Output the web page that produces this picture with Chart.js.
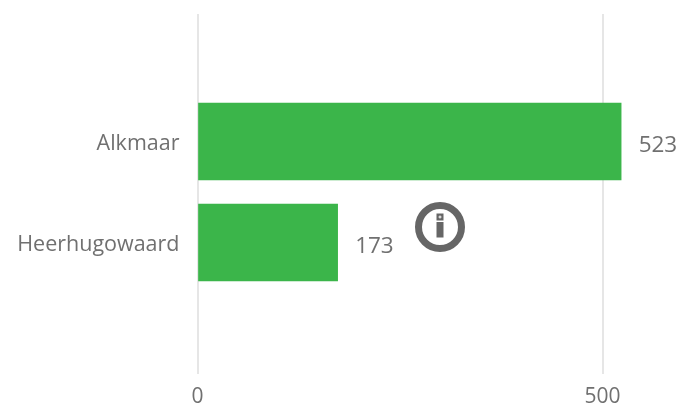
<!DOCTYPE html>
<html><head><meta charset="utf-8">
<style>html,body{margin:0;padding:0;background:#fff}#w{position:relative;width:681px;height:404px}canvas{display:block}</style>
<script src="https://cdn.jsdelivr.net/npm/chart.js@4"></script></head>
<body><div id="w"><canvas id="c" width="681" height="404"></canvas></div>
<script>
const categories = ["Alkmaar", "Heerhugowaard"];
const values = [523, 173];
const xTicks = [0, 500];
const font = '"Open Sans", "Noto Sans", sans-serif';
const textColor = '#707070';
const valueLabels = {
  id: 'valueLabels',
  afterDatasetsDraw(chart) {
    const ctx = chart.ctx;
    const meta = chart.getDatasetMeta(0);
    ctx.save();
    ctx.font = '22.5px ' + font;
    ctx.fillStyle = textColor;
    ctx.textBaseline = 'middle';
    meta.data.forEach((bar, i) => {
      ctx.fillText(String(values[i]), bar.x + 17.5, bar.y + 4);
    });
    ctx.restore();
  }
};
const infoIcon = {
  id: 'infoIcon',
  afterDraw(chart) {
    const ctx = chart.ctx, cx = 440, cy = 227;
    ctx.save();
    ctx.strokeStyle = '#666666';
    ctx.lineWidth = 7;
    ctx.beginPath(); ctx.arc(cx, cy, 21.5, 0, Math.PI * 2); ctx.stroke();
    ctx.fillStyle = '#666666';
    ctx.fillRect(cx - 3.5, cy - 13.5, 7, 7);
    ctx.fillRect(cx - 3.5, cy - 5, 7, 15.5);
    ctx.fillStyle = '#ffffff';
    ctx.fillRect(cx - 1.5, cy - 10.5, 3, 1);
    ctx.fillRect(cx - 0.5, cy - 11.5, 1, 3);
    ctx.restore();
  }
};
new Chart(document.getElementById('c'), {
  type: 'bar',
  data: { datasets: [{ data: values.map((v, i) => ({ x: v, y: i })), backgroundColor: '#3BB54A', barThickness: 77 }] },
  plugins: [valueLabels, infoIcon],
  options: {
    indexAxis: 'y', responsive: false, animation: false,
    layout: { padding: { top: 14, right: 5.6, bottom: 0, left: 0 } },
    plugins: { legend: { display: false }, tooltip: { enabled: false } },
    scales: {
      x: { min: 0, max: 590, afterBuildTicks(a) { a.ticks = xTicks.map(v => ({ value: v })); },
        afterFit(a) { a.height = 30; },
        grid: { color: '#e6e6e6', lineWidth: 2, drawTicks: false },
        border: { display: false },
        ticks: { color: textColor, font: { family: font, size: 21 }, padding: 10, maxRotation: 0 } },
      y: { type: 'linear', reverse: true, offset: false, min: -1.262, max: 2.302,
        afterBuildTicks(a) { a.ticks = categories.map((c, i) => ({ value: i })); },
        afterFit(a) { a.width = 197.5; a.paddingTop = 0; a.paddingBottom = 0; },
        grid: { display: false }, border: { display: false },
        ticks: { color: textColor, font: { family: font, size: 21.5 }, padding: 10, labelOffset: 2, autoSkip: false,
          callback: v => categories[v] } }
    }
  }
});
</script></body></html>
